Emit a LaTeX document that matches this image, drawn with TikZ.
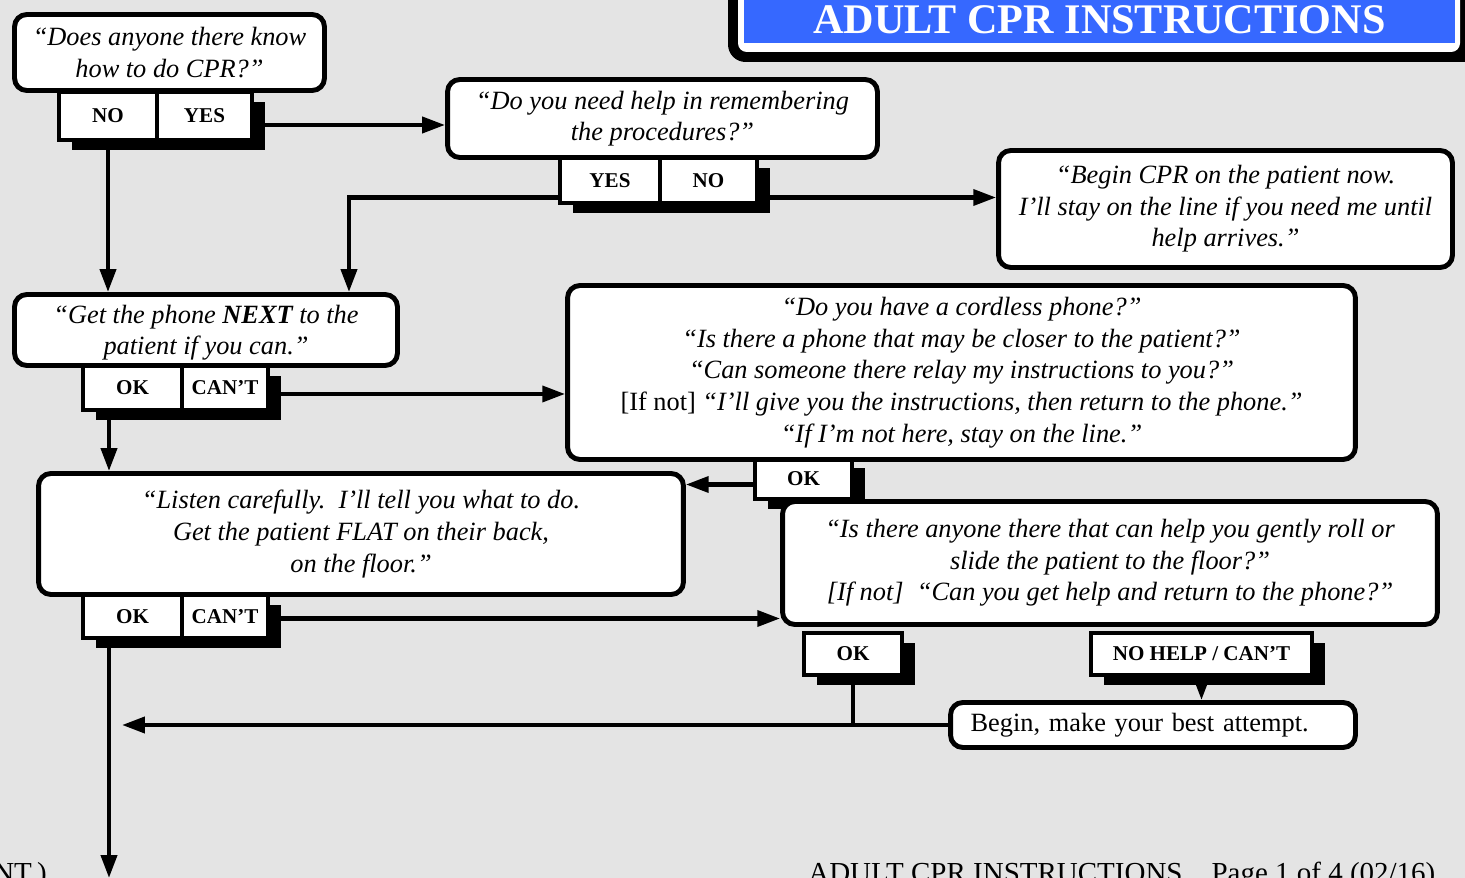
\documentclass[tikz,border=0pt]{standalone}
\usepackage{fontspec}
\setmainfont{Liberation Serif}
\usetikzlibrary{arrows.meta,shadows}
\definecolor{pagegray}{RGB}{228,228,228}
\definecolor{titleblue}{RGB}{54,104,255}
\pgfdeclarelayer{background}
\pgfsetlayers{background,main}

\begin{document}
\begin{tikzpicture}[
    x=0.02cm, y=-0.02cm,
    qbox/.style={draw, fill=white, line width=2.8pt, rounded corners=7pt, align=center, inner sep=0pt, font=\fontsize{15}{18}\selectfont\itshape},
    answer/.style={draw, fill=white, line width=2.6pt, inner sep=0pt, font=\fontsize{12}{14}\selectfont\bfseries,
        drop shadow={shadow xshift=0.26cm, shadow yshift=-0.2cm, opacity=1, fill=black}},
    titlebar/.style={fill=titleblue, text=white, inner sep=0pt, font=\fontsize{24}{28}\selectfont\bfseries},
    footer/.style={inner sep=0pt, font=\fontsize{16.5}{19}\selectfont},
    link/.style={line width=2.4pt},
    flow/.style={link, -{Triangle[length=13pt, width=9pt]}}
]
\useasboundingbox (0,0) rectangle (1465,878);

% === ANSWER BUTTONS (under the question boxes) ===
\node[answer, minimum width=1.96cm, minimum height=0.96cm] (askno) at (108,116) {NO};
\node[answer, minimum width=1.9cm, minimum height=0.96cm] (askyes) at (204.5,116) {YES};

\node[answer, minimum width=2.0cm, minimum height=0.9cm] (remyes) at (610,180.5) {YES};
\node[answer, minimum width=1.94cm, minimum height=0.9cm] (remno) at (708.5,180.5) {NO};

\node[answer, minimum width=1.98cm, minimum height=0.88cm] (phoneok) at (132.5,388) {OK};
\node[answer, minimum width=1.72cm, minimum height=0.88cm] (phonecant) at (225,388) {CAN’T};

\node[answer, minimum width=1.94cm, minimum height=0.82cm] (cordok) at (803.5,478.5) {OK};

\node[answer, minimum width=1.98cm, minimum height=0.86cm] (flatok) at (132.5,616.5) {OK};
\node[answer, minimum width=1.72cm, minimum height=0.86cm] (flatcant) at (225,616.5) {CAN’T};

\node[answer, minimum width=1.96cm, minimum height=0.84cm] (rollok) at (853,654) {OK};
\node[answer, minimum width=4.42cm, minimum height=0.84cm] (nohelp) at (1201.5,654) {NO HELP / CAN’T};

% === QUESTION BOXES ===
\node[qbox, minimum width=6.2cm, minimum height=1.52cm] (ask) at (169.5,52.5)
    {“Does anyone there know\\how to do CPR?”};
\node[qbox, minimum width=8.6cm, minimum height=1.56cm] (remember) at (662.5,118.5)
    {“Do you need help in remembering\\the procedures?”};
\node[qbox, minimum width=9.08cm, minimum height=2.34cm] (startcpr) at (1225.5,209)
    {“Begin CPR on the patient now.\\I’ll stay on the line if you need me until\\help arrives.”};
\node[qbox, minimum width=7.66cm, minimum height=1.42cm, text depth=-0.25cm] (phone) at (206,330)
    {“Get the phone \textbf{NEXT} to the\\patient if you can.”};
\node[qbox, minimum width=15.76cm, minimum height=3.48cm] (cordless) at (961.5,372.5)
    {“Do you have a cordless phone?”\\
     “Is there a phone that may be closer to the patient?”\\
     “Can someone there relay my instructions to you?”\\
     \textup{[If not]} “I’ll give you the instructions, then return to the phone.”\\
     “If I’m not here, stay on the line.”};
\node[qbox, minimum width=12.9cm, minimum height=2.42cm] (flat) at (361,534)
    {“Listen carefully.\ \ I’ll tell you what to do.\\Get the patient FLAT on their back,\\on the floor.”};
\node[qbox, minimum width=13.1cm, minimum height=2.46cm] (roll) at (1110,563)
    {“Is there anyone there that can help you gently roll or\\slide the patient to the floor?”\\
     {[If not]}\ \ “Can you get help and return to the phone?”};
\node[qbox, font=\fontsize{15}{18}\selectfont, align=left, minimum width=8.1cm, minimum height=0.9cm,
    text width=7.3cm] (attempt) at (1153,725) {Begin, make your best attempt.};

% === TITLE AND FOOTER ===
\node[titlebar, minimum width=14.22cm, minimum height=0.92cm] (title) at (1099.5,20) {ADULT CPR INSTRUCTIONS};
\node[footer, anchor=base west] (pagenote) at (808,882) {ADULT CPR INSTRUCTIONS\quad Page 1 of 4 (02/16)};
\node[footer, anchor=base east] (contnote) at (47,882) {NT.)};

\coordinate (spine) at (109,0);
\coordinate (bottom) at (109,878);

\begin{pgfonlayer}{background}
\fill[pagegray] (0,0) rectangle (1465,878);
% title frame
\fill[black, rounded corners=10pt] (728,-20) rectangle (1490,62);
\fill[white, rounded corners=5pt] (738,-20) rectangle (1460,52);

% === CONNECTORS ===
\draw[flow] ([yshift=-0.18cm]askyes.east) -- ([yshift=-0.18cm]askyes.east -| remember.west);
\draw[flow] (askno.south) -- (askno.south |- phone.north);
\draw[flow] ([yshift=-0.34cm]remyes.west) -| ([xshift=2.86cm]phone.north);
\draw[flow] ([yshift=-0.34cm]remno.east) -- ([yshift=-0.34cm]remno.east -| startcpr.west);
\draw[flow] ([yshift=-0.12cm]phonecant.east) -- ([yshift=-0.12cm]phonecant.east -| cordless.west);
\draw[flow] (phoneok.south -| spine) -- (spine |- flat.north);
\draw[flow] ([yshift=-0.12cm]cordok.west) -- ([yshift=-0.12cm]cordok.west -| flat.east);
\draw[flow] ([yshift=-0.04cm]flatcant.east) -- ([yshift=-0.04cm]flatcant.east -| roll.west);
\draw[flow] (flatok.south -| spine) -- (bottom);
\draw[link] (rollok.south) -- (rollok.south |- attempt.west);
\draw[flow, shorten >=0.26cm] (attempt.west) -- (attempt.west -| spine);
\draw[flow] (nohelp.south) -- (nohelp.south |- attempt.north);
\end{pgfonlayer}

\end{tikzpicture}
\end{document}
